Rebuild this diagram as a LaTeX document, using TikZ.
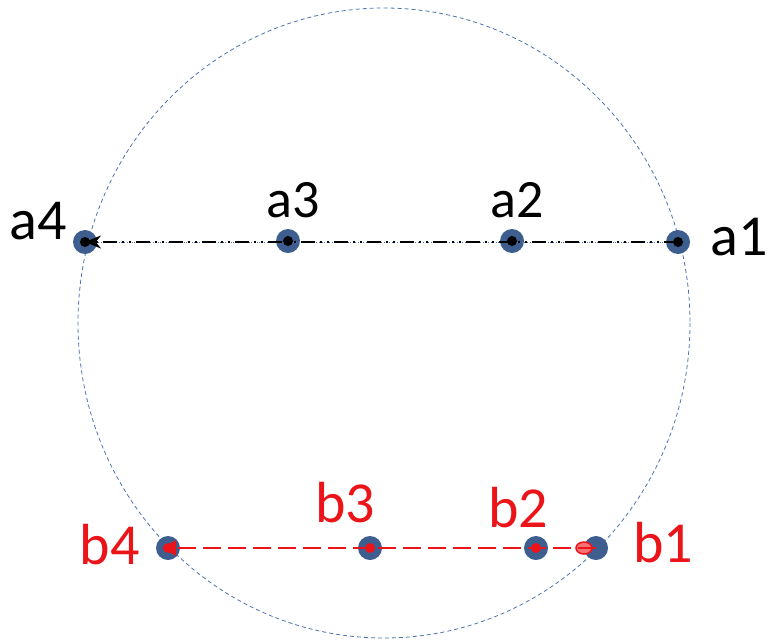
\documentclass[tikz,border=0pt]{standalone}
\usepackage{fontspec}
\setmainfont{Carlito}
\usetikzlibrary{arrows.meta, positioning}
\definecolor{DotBlue}{rgb}{0.24, 0.37, 0.56}
\definecolor{RingBlue}{rgb}{0.30, 0.45, 0.68}
\definecolor{PathRed}{rgb}{0.92, 0.08, 0.10}

\begin{document}
\begin{tikzpicture}[
    x=1pt, y=-1pt,
    dot/.style={circle, fill=DotBlue, minimum size=24pt, inner sep=0pt},
    lbl/.style={font=\fontsize{58}{62}\selectfont, inner sep=0pt},
    slbl/.style={font=\fontsize{54}{58}\selectfont, inner sep=0pt},
    ring/.style={RingBlue, line width=0.8pt, dash pattern=on 4pt off 3pt},
    apath/.style={black, line width=2pt, dash pattern=on 14pt off 5pt on 2pt off 5pt on 2pt off 5pt,
        -{Stealth[length=16pt, width=13pt]}},
    bpath/.style={PathRed, line width=2.5pt, dash pattern=on 18pt off 7pt,
        -{Triangle[length=14pt, width=15pt]}},
]
\useasboundingbox (0,0) rectangle (770,643);

% circle
\draw[ring] (384,323) ellipse [x radius=306, y radius=315];

% points a
\node[dot] (a4) at (85,242) {};
\node[dot] (a3) at (288,241) {};
\node[dot] (a2) at (512,241) {};
\node[dot] (a1) at (678,242) {};
\draw[RingBlue, line width=0.6pt, dotted] (a4.center) -- (a1.center);
\foreach \p in {a1,a2,a3,a4}
    \fill[black] (\p.center) circle (5);
\draw[apath] (a1.center) -- (a4.center);

% points b
\node[dot] (b4) at (168,548) {};
\node[dot] (b3) at (370,548) {};
\node[dot] (b2) at (536,548) {};
\node[dot] (b1) at (596,548) {};
\foreach \p in {b2,b3,b4}
    \fill[PathRed] (\p.center) circle (5);
\draw[PathRed, line width=1.5pt, fill=PathRed!60] (b1.center) ++(-12,0) ellipse [x radius=8, y radius=6];
\draw[bpath, shorten >=-6pt] (b1.center) -- (b4.center);

% labels
\node[lbl, left=6pt of a4, yshift=21pt] (la4) {a4};
\node[slbl, above=11pt of a3, xshift=5pt] (la3) {a3};
\node[slbl, above=11pt of a2, xshift=5pt] (la2) {a2};
\node[lbl, right=20pt of a1, yshift=5pt] (la1) {a1};
\node[lbl, PathRed, left=16pt of b4, yshift=3pt] (lb4) {b4};
\node[lbl, PathRed, above=13pt of b3, xshift=-25pt] (lb3) {b3};
\node[lbl, PathRed, above=8pt of b2, xshift=-18pt] (lb2) {b2};
\node[lbl, PathRed, right=25pt of b1, yshift=5pt] (lb1) {b1};

\end{tikzpicture}
\end{document}
